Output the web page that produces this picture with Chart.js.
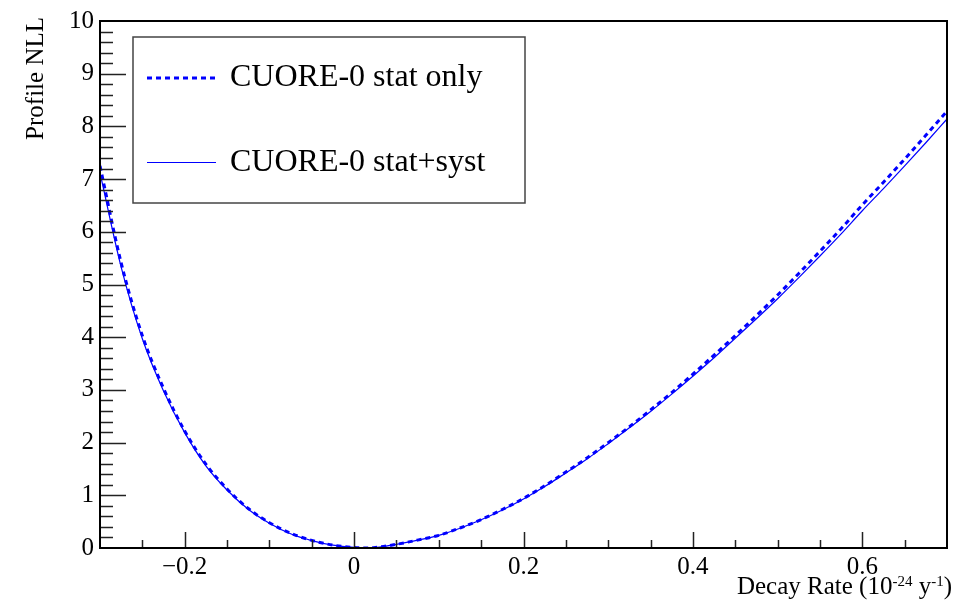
<!DOCTYPE html>
<html>
<head>
<meta charset="utf-8">
<script src="https://cdn.jsdelivr.net/npm/chart.js@4.4.1/dist/chart.umd.min.js"></script>
<style>
	html, body { margin: 0; padding: 0; background: #fff; }
	#wrap { width: 965px; height: 604px; }
</style>
</head>
<body>
<div id="wrap"><canvas id="nllChart" width="965" height="604"></canvas></div>
<script>
// decay rate in units of 1e-24 / y
const decayRate = [
	-0.3, -0.275, -0.25, -0.225, -0.2, -0.175, -0.15, -0.125, -0.1, -0.075, -0.05, -0.025,
	0, 0.015, 0.025, 0.05, 0.075, 0.1, 0.125, 0.15, 0.175, 0.2, 0.225, 0.25, 0.275, 0.3,
	0.325, 0.35, 0.375, 0.4, 0.425, 0.45, 0.475, 0.5, 0.525, 0.55, 0.575, 0.6, 0.625,
	0.65, 0.675, 0.7,
];
const nllStatOnly = [
	7.25, 5.41, 4.03, 3.03, 2.22, 1.59, 1.12, 0.75, 0.48, 0.28, 0.145, 0.055,
	0.01, 0, 0.01, 0.07, 0.15, 0.24, 0.38, 0.54, 0.73, 0.94, 1.18, 1.44, 1.71, 2.0,
	2.3, 2.62, 2.95, 3.3, 3.66, 4.03, 4.41, 4.8, 5.21, 5.63, 6.06, 6.51, 6.94,
	7.38, 7.83, 8.29,
];
const nllStatSyst = [
	7.12, 5.33, 3.97, 2.98, 2.19, 1.56, 1.1, 0.735, 0.47, 0.27, 0.14, 0.053,
	0.01, 0, 0.01, 0.07, 0.15, 0.24, 0.375, 0.535, 0.72, 0.93, 1.165, 1.425, 1.69, 1.98,
	2.28, 2.59, 2.92, 3.26, 3.61, 3.98, 4.35, 4.73, 5.13, 5.54, 5.96, 6.4, 6.82,
	7.25, 7.69, 8.14,
];
const seriesLabels = ["CUORE-0 stat only", "CUORE-0 stat+syst"];
const xTitle = ["Decay Rate (10", "-24", " y", "-1", ")"];
const yTitle = "Profile NLL";

const FONT = "'Liberation Serif', 'Times New Roman', serif";

function isMultiple(v, step) {
	const r = v / step;
	return Math.abs(r - Math.round(r)) < 1e-6;
}

// ROOT style frame, inward ticks, axis titles and legend box
const rootStyle = {
	id: "rootStyle",
	afterDatasetsDraw(chart) {
		const { ctx, chartArea: a, scales } = chart;
		const xs = scales.x;
		const ys = scales.y;
		ctx.save();

		// ticks
		ctx.strokeStyle = "#222";
		ctx.lineWidth = 1.5;
		ctx.beginPath();
		xs.ticks.forEach((t) => {
			const px = Math.round(xs.getPixelForValue(t.value)) + 0.5;
			if (px <= a.left + 1 || px >= a.right - 1) return;
			const len = isMultiple(t.value, 0.2) ? 16 : 8;
			ctx.moveTo(px, a.bottom);
			ctx.lineTo(px, a.bottom - len);
		});
		ys.ticks.forEach((t) => {
			const py = Math.round(ys.getPixelForValue(t.value)) + 0.5;
			if (py >= a.bottom - 1 || py <= a.top + 1) return;
			const len = isMultiple(t.value, 1) ? 26 : 13;
			ctx.moveTo(a.left, py);
			ctx.lineTo(a.left + len, py);
		});
		ctx.stroke();

		// frame
		ctx.strokeStyle = "#000";
		ctx.lineWidth = 2;
		ctx.strokeRect(a.left, a.top, a.right - a.left, a.bottom - a.top);

		// x title with superscripts, right aligned
		ctx.fillStyle = "#000";
		ctx.textBaseline = "alphabetic";
		const big = "25px " + FONT;
		const small = "15px " + FONT;
		const parts = xTitle.map((s, i) => ({ s, sup: i === 1 || i === 3 }));
		let total = 0;
		parts.forEach((p) => {
			ctx.font = p.sup ? small : big;
			p.w = ctx.measureText(p.s).width;
			total += p.w;
		});
		let cx = 952 - total;
		const base = 594;
		parts.forEach((p) => {
			ctx.font = p.sup ? small : big;
			ctx.fillText(p.s, cx, p.sup ? base - 8 : base);
			cx += p.w;
		});

		// y title, rotated, aligned to top
		ctx.save();
		ctx.translate(43, 17);
		ctx.rotate(-Math.PI / 2);
		ctx.font = "25px " + FONT;
		ctx.textAlign = "right";
		ctx.fillText(yTitle, 0, 0);
		ctx.restore();

		// legend box
		const lx = 133, ly = 37, lw = 392, lh = 166;
		ctx.fillStyle = "#fff";
		ctx.fillRect(lx, ly, lw, lh);
		ctx.strokeStyle = "#444";
		ctx.lineWidth = 1.5;
		ctx.strokeRect(lx, ly, lw, lh);
		const rows = [78, 162.5];
		chart.data.datasets.forEach((ds, i) => {
			const y = rows[i];
			ctx.strokeStyle = ds.borderColor;
			ctx.lineWidth = i === 0 ? ds.borderWidth : 1;
			ctx.setLineDash(ds.borderDash || []);
			ctx.beginPath();
			ctx.moveTo(147, y);
			ctx.lineTo(216, y);
			ctx.stroke();
			ctx.setLineDash([]);
			ctx.fillStyle = "#000";
			ctx.font = "32px " + FONT;
			ctx.textAlign = "left";
			ctx.textBaseline = "middle";
			ctx.fillText(ds.label, 230, Math.round(y));
		});

		ctx.restore();
	},
};

const ctx = document.getElementById("nllChart").getContext("2d");

new Chart(ctx, {
	type: "line",
	data: {
		datasets: [
			{
				label: seriesLabels[0],
				data: decayRate.map((x, i) => ({ x, y: nllStatOnly[i] })),
				borderColor: "#0000ff",
				borderWidth: 3,
				borderDash: [5, 4],
				pointRadius: 0,
				cubicInterpolationMode: "monotone",
				fill: false,
			},
			{
				label: seriesLabels[1],
				data: decayRate.map((x, i) => ({ x, y: nllStatSyst[i] })),
				borderColor: "#0000ff",
				borderWidth: 1.2,
				pointRadius: 0,
				cubicInterpolationMode: "monotone",
				fill: false,
			},
		],
	},
	options: {
		responsive: false,
		animation: false,
		layout: { padding: { top: 16, right: 18, left: 0, bottom: 0 } },
		plugins: {
			legend: { display: false },
			tooltip: { enabled: false },
		},
		scales: {
			x: {
				type: "linear",
				min: -0.3,
				max: 0.7,
				grid: { display: false, drawTicks: false },
				border: { display: false },
				afterFit: (scale) => {
					scale.height = 56;
				},
				ticks: {
					stepSize: 0.05,
					autoSkip: false,
					maxRotation: 0,
					padding: 4,
					color: "#000",
					font: { family: FONT, size: 25 },
					callback: (v) => {
						if (!isMultiple(v, 0.2)) return "";
						const r = Math.round(v * 10) / 10;
						if (r === 0) return "0";
						return r < 0 ? "\u2212" + Math.abs(r).toFixed(1) : r.toFixed(1);
					},
				},
			},
			y: {
				min: 0,
				max: 10,
				grid: { display: false, drawTicks: false },
				border: { display: false },
				afterFit: (scale) => {
					scale.width = 100;
				},
				ticks: {
					stepSize: 0.2,
					autoSkip: false,
					padding: 6,
					color: "#000",
					font: { family: FONT, size: 25 },
					callback: (v) => (isMultiple(v, 1) ? String(Math.round(v)) : ""),
				},
			},
		},
	},
	plugins: [rootStyle],
});
</script>
</body>
</html>
